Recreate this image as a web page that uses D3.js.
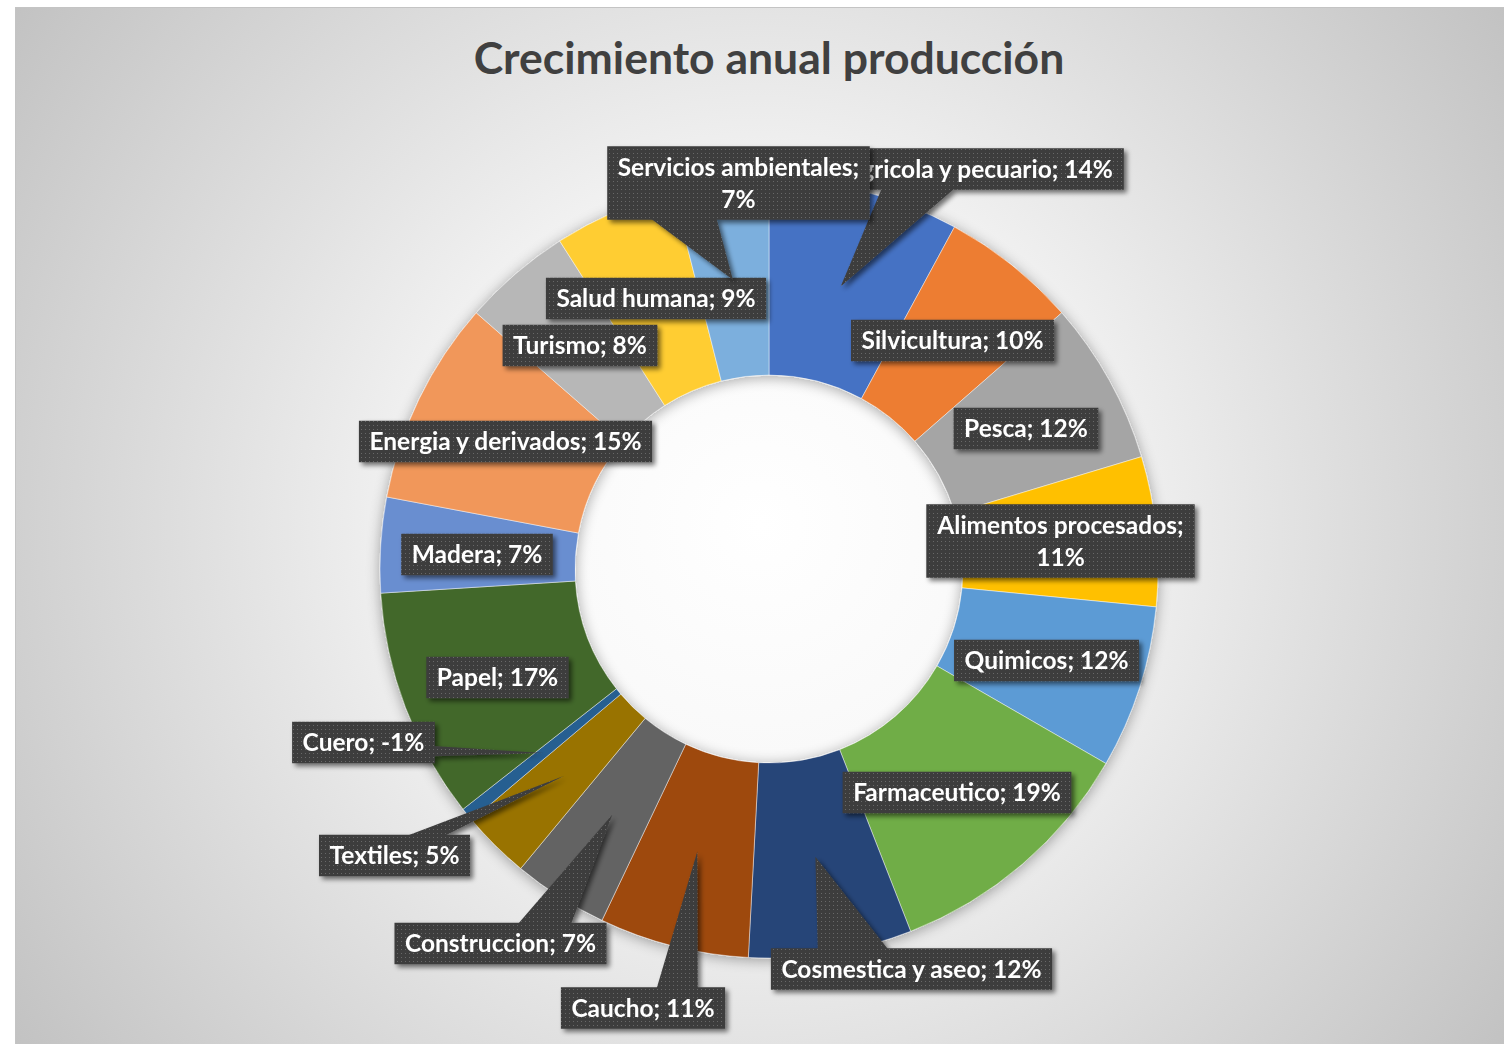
<!DOCTYPE html>
<html>
<head>
<meta charset="utf-8">
<script src="https://cdn.jsdelivr.net/npm/d3@7"></script>
<style>
body { margin: 0; background: #fff; }
svg { display: block; }
text { font-family: Lato, "Open Sans", sans-serif; font-weight: bold; }
</style>
</head>
<body>
<svg width="1504" height="1044"></svg>
<script>
// Data
const title = 'Crecimiento anual producción'
const categories = ['Agricola y pecuario', 'Silvicultura', 'Pesca', 'Alimentos procesados', 'Quimicos',
	'Farmaceutico', 'Cosmestica y aseo', 'Caucho', 'Construccion', 'Textiles', 'Cuero', 'Papel',
	'Madera', 'Energia y derivados', 'Turismo', 'Salud humana', 'Servicios ambientales']
const values = [14, 10, 12, 11, 12, 19, 12, 11, 7, 5, -1, 17, 7, 15, 8, 9, 7]
const colors = ['#4472C4', '#ED7D31', '#A5A5A5', '#FFC000', '#5B9BD5', '#70AD47', '#264478', '#9E480E',
	'#636363', '#997300', '#255E91', '#43682B', '#698ED0', '#F1975A', '#B7B7B7', '#FFCD33', '#7CAFDD']

// Layout: label box centres (as placed in the original), and labels wrapped on two lines
const labelCenters = [[978.5, 169], [952.5, 340.5], [1026, 428.5], [1060.5, 541], [1046.5, 660.5],
	[957, 792.5], [911.5, 969], [643, 1008], [500.5, 943.5], [394.5, 855.5], [363.5, 742.5],
	[497.5, 677.5], [477, 554.5], [505.5, 441.5], [580, 345.5], [656, 298.5], [738.5, 183]]
const wrapped = ['Alimentos procesados', 'Servicios ambientales']

const W = 1504, H = 1044
const cx = 769, cy = 569
const rOuter = 389, rInner = 194

const svg = d3.select('svg')
const defs = svg.append('defs')

// Chart area background
const bg = defs.append('radialGradient').attr('id', 'bg')
	.attr('gradientUnits', 'userSpaceOnUse')
	.attr('cx', 760).attr('cy', 525).attr('r', 910)
bg.append('stop').attr('offset', 0).attr('stop-color', '#ffffff')
bg.append('stop').attr('offset', 0.3).attr('stop-color', '#f8f8f8')
bg.append('stop').attr('offset', 1).attr('stop-color', '#c2c2c2')

// Dotted label fill
const pat = defs.append('pattern').attr('id', 'dots')
	.attr('patternUnits', 'userSpaceOnUse').attr('width', 4).attr('height', 4)
pat.append('rect').attr('width', 4).attr('height', 4).attr('fill', '#3e3e3e')
pat.append('rect').attr('x', 1).attr('y', 1).attr('width', 1).attr('height', 1).attr('fill', '#686868')

function shadow(id, blur, dx, dy, alpha) {
	const f = defs.append('filter').attr('id', id)
		.attr('filterUnits', 'userSpaceOnUse')
		.attr('x', -W).attr('y', -H).attr('width', 3 * W).attr('height', 3 * H)
	f.append('feGaussianBlur').attr('in', 'SourceAlpha').attr('stdDeviation', blur)
	f.append('feOffset').attr('dx', dx).attr('dy', dy).attr('result', 'off')
	f.append('feComponentTransfer').append('feFuncA').attr('type', 'linear').attr('slope', alpha)
	const m = f.append('feMerge')
	m.append('feMergeNode')
	m.append('feMergeNode').attr('in', 'SourceGraphic')
}
shadow('ringShadow', 7, 0, 2, 0.35)
shadow('lblShadow', 2.5, 3, 3, 0.55)

svg.append('rect')
	.attr('x', 15.5).attr('y', 7.5).attr('width', W).attr('height', H)
	.attr('fill', 'url(#bg)').attr('stroke', '#c4c4c4').attr('stroke-width', 1)

// Title
svg.append('text')
	.attr('x', cx).attr('y', 74)
	.attr('text-anchor', 'middle')
	.attr('font-size', 44.5)
	.attr('fill', '#404040')
	.text(title)

// Doughnut
const rows = categories.map((c, i) => ({ name: c, value: values[i], color: colors[i] }))
const pie = d3.pie().sort(null).value((d) => Math.abs(d.value))
const arcs = pie(rows)
const arc = d3.arc().innerRadius(rInner).outerRadius(rOuter)

const ring = svg.append('g')
	.attr('transform', `translate(${cx},${cy})`)
	.attr('filter', 'url(#ringShadow)')
ring.selectAll('path')
	.data(arcs)
	.enter().append('path')
	.attr('d', arc)
	.attr('fill', (d) => d.data.color)
	.attr('stroke', '#ffffff')
	.attr('stroke-opacity', 0.6)
	.attr('stroke-width', 0.75)

// Data labels as wedge callouts (Excel wedgeRectCallout geometry)
function wedge(x, y, w, h, tx, ty) {
	const dx = tx - (x + w / 2), dy = ty - (y + h / 2)
	if (tx >= x && tx <= x + w && ty >= y && ty <= y + h) return null
	if (Math.abs(dy) - Math.abs(dx) * h / w > 0) {
		const a = x + w * (dx > 0 ? 7 : 2) / 12, b = x + w * (dx > 0 ? 10 : 5) / 12
		const ey = dy > 0 ? y + h - 1 : y + 1
		return `M${a},${ey}L${tx},${ty}L${b},${ey}Z`
	}
	const a = y + h * (dy > 0 ? 7 : 2) / 12, b = y + h * (dy > 0 ? 10 : 5) / 12
	const ex = dx > 0 ? x + w - 1 : x + 1
	return `M${ex},${a}L${tx},${ty}L${ex},${b}Z`
}

const labels = svg.append('g')
arcs.forEach((d, i) => {
	const name = d.data.name
	const lines = wrapped.includes(name)
		? [`${name};`, `${d.data.value}%`]
		: [`${name}; ${d.data.value}%`]
	const [lx, ly] = labelCenters[i]
	const [px, py] = arc.centroid(d)
	const tip = [cx + px, cy + py]

	const g = labels.append('g').attr('filter', 'url(#lblShadow)')
	const t = g.append('text')
		.attr('text-anchor', 'middle')
		.attr('font-size', 24.5)
		.attr('fill', '#ffffff')
	lines.forEach((s, k) => {
		t.append('tspan')
			.attr('x', lx)
			.attr('y', ly + (k - (lines.length - 1) / 2) * 32 + 8.5)
			.text(s)
	})
	const tw = t.node().getBBox().width
	const bw = tw + 21, bh = lines.length * 32 + 9.5
	const bx = lx - bw / 2, by = ly - bh / 2
	const wp = wedge(bx, by, bw, bh, tip[0], tip[1])
	if (wp) g.insert('path', 'text').attr('d', wp).attr('fill', 'url(#dots)')
	g.insert('rect', 'text')
		.attr('x', bx).attr('y', by).attr('width', bw).attr('height', bh)
		.attr('fill', 'url(#dots)')
})
</script>
</body>
</html>
